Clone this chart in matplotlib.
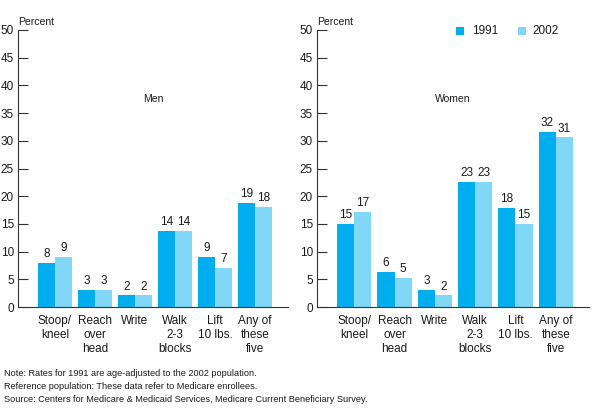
import matplotlib
matplotlib.use("Agg")
import matplotlib.pyplot as plt
import numpy as np
from matplotlib.patches import Rectangle

plt.rcParams['font.family'] = ['Liberation Sans', 'DejaVu Sans']

categories = ["Stoop/\nkneel", "Reach\nover\nhead", "Write", "Walk\n2-3\nblocks",
              "Lift\n10 lbs.", "Any of\nthese\nfive"]
men_1991 = [7.9, 3.1, 2.1, 13.7, 9.0, 18.8]
men_2002 = [9.0, 3.1, 2.1, 13.7, 7.0, 18.1]
women_1991 = [15.0, 6.3, 3.1, 22.6, 17.9, 31.6]
women_2002 = [17.1, 5.2, 2.1, 22.6, 15.0, 30.6]
years = ["1991", "2002"]
yticks = [0, 5, 10, 15, 20, 25, 30, 35, 40, 45, 50]

c1991 = "#00AEEF"
c2002 = "#80D7F6"
txt = "#1a1a1a"

fig = plt.figure(figsize=(5.92, 4.13), dpi=100)
W, H = 592, 413

def add_ax(x0, x1, y0, y1):
    return fig.add_axes([x0 / W, 1 - y1 / H, (x1 - x0) / W, (y1 - y0) / H])

axL = add_ax(18, 288, 30, 307)
axR = add_ax(317, 589, 30, 307)

def draw(ax, v1, v2, label):
    x = np.arange(len(categories))
    w = 0.425
    ax.bar(x - w / 2, v1, w, color=c1991, linewidth=0)
    ax.bar(x + w / 2, v2, w, color=c2002, linewidth=0)
    for xi, a, b in zip(x, v1, v2):
        ax.text(xi - w / 2, a + 0.5, f"{a:.0f}", ha='center', va='bottom', fontsize=8.5, color=txt)
        ax.text(xi + w / 2, b + 0.5, f"{b:.0f}", ha='center', va='bottom', fontsize=8.5, color=txt)
    ax.set_xlim(-0.925, 5.825)
    ax.set_ylim(0, 50)
    ax.set_yticks(yticks)
    ax.set_xticks(x)
    ax.set_xticklabels(categories, fontsize=8.5, color=txt, linespacing=1.2)
    ax.tick_params(axis='x', length=0, pad=6)
    ax.tick_params(axis='y', direction='in', length=7.5, width=0.8, labelsize=8.5,
                   labelcolor=txt, color='#333333', pad=3)
    for s in ['top', 'right']:
        ax.spines[s].set_visible(False)
    for s in ['left', 'bottom']:
        ax.spines[s].set_color('#333333')
        ax.spines[s].set_linewidth(0.8)
    ax.text(0.5, 37.5 / 50, label, transform=ax.transAxes, ha='center', va='center',
            fontsize=7.5, color=txt)
    ax.text(0.0, 1.012, "Percent", transform=ax.transAxes, ha='left', va='bottom',
            fontsize=7.5, color=txt)

draw(axL, men_1991, men_2002, "Men")
draw(axR, women_1991, women_2002, "Women")

# legend
for (xs, xt, col, lab) in [(456, 472, c1991, years[0]), (518, 532, c2002, years[1])]:
    fig.patches.append(Rectangle((xs / W, 1 - 35 / H), 8 / W, 8 / H,
                                 transform=fig.transFigure, color=col, linewidth=0))
    fig.text(xt / W, 1 - 31 / H, lab, ha='left', va='center', fontsize=8.5, color=txt)

notes = ["Note: Rates for 1991 are age-adjusted to the 2002 population.",
         "Reference population: These data refer to Medicare enrollees.",
         "Source: Centers for Medicare & Medicaid Services, Medicare Current Beneficiary Survey."]
for i, n in enumerate(notes):
    fig.text(4 / W, 1 - (374 + 12.7 * i) / H, n, ha='left', va='center', fontsize=6.6, color=txt)

fig.savefig("out.png", dpi=100)
